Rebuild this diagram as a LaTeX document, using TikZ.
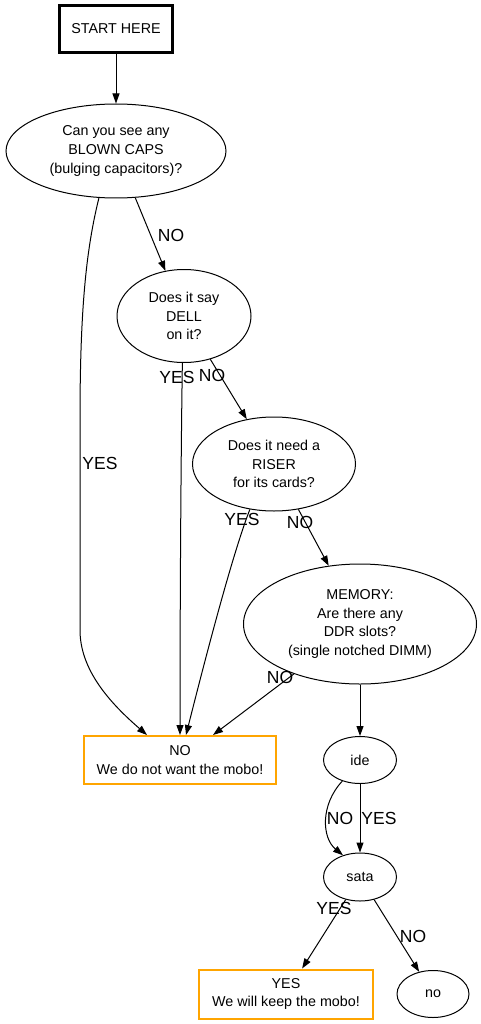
\documentclass[tikz,border=0pt]{standalone}
\usepackage{fontspec}
\setmainfont{Liberation Sans}
\usetikzlibrary{arrows.meta,shapes.geometric}
\definecolor{boxorange}{HTML}{FFA500}
\tikzset{
  every node/.style={font=\fontsize{14.3}{18.7}\selectfont, align=center, inner sep=0pt},
  ell/.style={draw, ellipse, line width=1pt},
  startbox/.style={draw, rectangle, line width=2.2pt},
  resbox/.style={draw=boxorange, rectangle, line width=2pt},
  lbl/.style={font=\fontsize{17.5}{20}\selectfont, inner sep=0pt},
  edge/.style={line width=1pt, -{Triangle[length=10pt,width=7pt]}},
}
\begin{document}
\begin{tikzpicture}[x=1pt,y=-1pt]
\fill[white] (0,0) rectangle (481,1024);
\useasboundingbox (0,0) rectangle (481,1024);

\node[startbox, minimum width=113pt, minimum height=47pt] (start) at (116,29) {START HERE};
\node[ell, minimum width=220pt, minimum height=94pt] (caps) at (116,151) {Can you see any\\BLOWN CAPS\\(bulging capacitors)?};
\node[ell, minimum width=134pt, minimum height=93pt] (dell) at (184,316) {Does it say\\DELL\\on it?};
\node[ell, minimum width=163pt, minimum height=94pt] (riser) at (274,464) {Does it need a\\RISER\\for its cards?};
\node[ell, minimum width=233pt, minimum height=120pt] (mem) at (360,624) {MEMORY:\\Are there any\\DDR slots?\\(single notched DIMM)};
\node[resbox, minimum width=192pt, minimum height=48pt] (nobox) at (180,760) {NO\\We do not want the mobo!};
\node[ell, minimum width=73pt, minimum height=47pt] (ide) at (360,760) {ide};
\node[ell, minimum width=73pt, minimum height=48pt] (sata) at (360,877) {sata};
\node[resbox, minimum width=174pt, minimum height=49pt] (yesbox) at (286,994) {YES\\We will keep the mobo!};
\node[ell, minimum width=72pt, minimum height=47pt] (no) at (433,994) {no};

\draw[edge] (start) -- (caps);
\draw[edge] (caps) -- (dell);
\draw[edge] (caps.-110) .. controls (86,250) and (80,310) .. (80,420) -- (80,630) .. controls (80,670) and (110,703) .. ([xshift=-33pt]nobox.north);
\draw[edge] (dell.-92) .. controls (181,450) and (180,600) .. (nobox.north);
\draw[edge] (dell) -- (riser);
\draw[edge] (riser.-118) .. controls (236,545) and (215,620) .. ([xshift=6pt]nobox.north);
\draw[edge] (riser) -- (mem);
\draw[edge] (mem) -- (nobox);
\draw[edge] (mem) -- (ide);
\draw[edge] (ide.-130) .. controls (320,805) and (322,838) .. (sata.128);
\draw[edge] (ide) -- (sata);
\draw[edge] (sata) -- (yesbox);
\draw[edge] (sata) -- (no);

\node[lbl] (l1) at (171,235) {NO};
\node[lbl] (l2) at (100,463) {YES};
\node[lbl] (l3) at (177,377) {YES};
\node[lbl] (l4) at (212,375) {NO};
\node[lbl] (l5) at (242,519) {YES};
\node[lbl] (l6) at (300,522) {NO};
\node[lbl] (l7) at (280,677) {NO};
\node[lbl] (l8) at (340,818) {NO};
\node[lbl] (l9) at (379,818) {YES};
\node[lbl] (l10) at (334,908) {YES};
\node[lbl] (l11) at (413,936) {NO};
\end{tikzpicture}
\end{document}
